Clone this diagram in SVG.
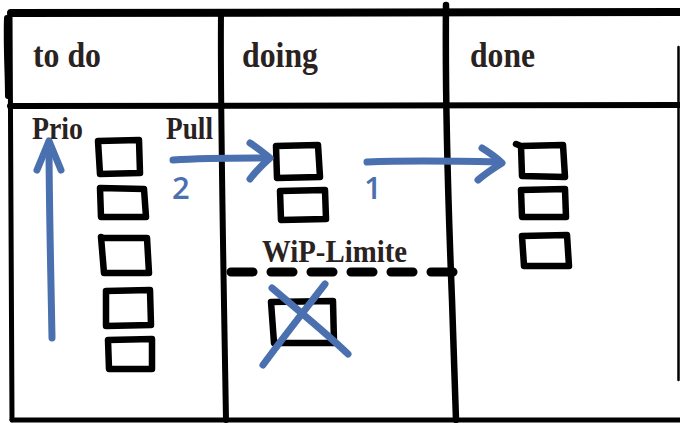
<svg xmlns="http://www.w3.org/2000/svg" width="680" height="423" viewBox="0 0 680 423">
<style>
.grid{fill:none;stroke:#000;stroke-linecap:round;stroke-linejoin:round}
.card{fill:none;stroke:#000;stroke-width:6.5;stroke-linecap:round;stroke-linejoin:round}
.blue{fill:none;stroke:#4a70b0;stroke-width:7;stroke-linecap:round;stroke-linejoin:round}
.hdr{font-family:"Liberation Serif",serif;font-weight:bold;font-size:35px;fill:#2a221e}
.lbl{font-family:"Liberation Serif",serif;font-weight:bold;font-size:31px;fill:#2a221e}
.num{font-family:"Open Sans","Liberation Sans",sans-serif;font-weight:600;font-size:31px;fill:#4a70b0}
</style>
<rect width="680" height="423" fill="#fff"/>
<g id="board">
<path class="grid" stroke-width="8" d="M11,13 L680,12"/>
<path class="grid" stroke-width="5" d="M10,14 L12,420"/>
<path class="grid" stroke-width="6" d="M7,18 C6,45 8,75 8,96"/>
<path class="grid" stroke-width="6" d="M10,106 L680,105"/>
<path class="grid" stroke-width="6" d="M221,14 C220,100 224,300 226,420"/>
<path class="grid" stroke-width="6.5" d="M446,5 C445,100 448,200 452,300 L456,420"/>
<path class="grid" stroke-width="5" d="M12,420 L680,420"/>
<path class="grid" stroke-width="2.5" d="M678.5,47 L678.5,380"/>
</g>
<g id="headers">
<text class="hdr" x="33" y="67" textLength="68" lengthAdjust="spacingAndGlyphs">to do</text>
<text class="hdr" x="242" y="67" textLength="76" lengthAdjust="spacingAndGlyphs">doing</text>
<text class="hdr" x="470" y="67" textLength="65" lengthAdjust="spacingAndGlyphs">done</text>
</g>
<g id="labels">
<text class="lbl" x="32" y="139" textLength="51" lengthAdjust="spacingAndGlyphs">Prio</text>
<text class="lbl" x="166" y="139" textLength="47" lengthAdjust="spacingAndGlyphs">Pull</text>
<text class="lbl" x="262" y="262" textLength="145" lengthAdjust="spacingAndGlyphs">WiP-Limite</text>
<text class="num" x="172" y="199">2</text>
<text class="num" x="364" y="199">1</text>
</g>
<g id="todo-cards">
<path class="card" d="M98,141 L139,140 L140,173 L100,174 Z"/>
<path class="card" d="M100,188 L144,189 L146,217 L101,217 Z"/>
<path class="card" d="M101,237 L103,238 L147,238 L149,273 L104,273 Z"/>
<path class="card" d="M106,291 L150,290 L151,325 L106,326 Z"/>
<path class="card" d="M108,340 L152,339 L152,369 L109,369 Z"/>
</g>
<g id="doing-cards">
<path class="card" d="M276,146 L318,145 L320,177 L277,178 Z"/>
<path class="card" d="M280,191 L325,190 L326,219 L281,220 Z"/>
<path class="card" d="M271,302 L333,301 L334,343 L274,343 Z"/>
</g>
<g id="done-cards">
<path class="card" d="M516,144 L521,146 L563,145 L565,177 L522,176 L521,146"/>
<path class="card" d="M521,190 L565,189 L566,217 L522,217 Z"/>
<path class="card" d="M522,236 L567,235 L569,266 L524,266 Z"/>
</g>
<g id="connectors">
<path class="blue" d="M52,338 C51,280 49,200 49,142"/>
<path class="blue" d="M37,170 L49,141 L61,170"/>
<path class="blue" d="M173,160 C205,158 240,158 269,158"/>
<path class="blue" d="M250,143 C258,148 264,153 270,158 C262,165 256,171 250,179"/>
<path class="blue" d="M367,162 C410,160 460,161 500,162"/>
<path class="blue" d="M482,148 C490,153 496,157 502,163 C494,168 486,173 478,180"/>
<path class="blue" d="M272,288 C300,312 325,332 348,354"/>
<path class="blue" d="M325,284 C305,310 285,335 263,365"/>
<path fill="none" stroke="#000" stroke-width="9" stroke-linecap="round" stroke-dasharray="22 18" d="M231,272 L458,272"/>
</g>
</svg>
